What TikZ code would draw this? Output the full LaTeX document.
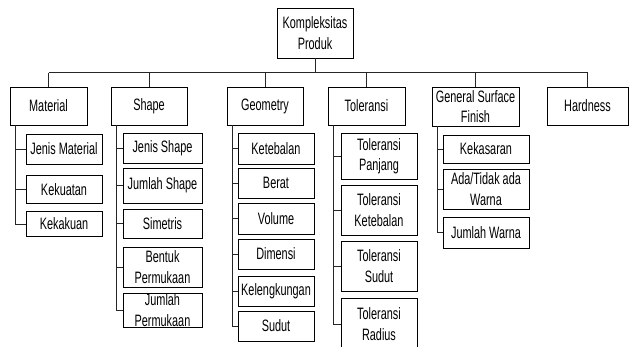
\documentclass[tikz,border=0pt]{standalone}
\usepackage{fontspec}
\setmainfont{Liberation Sans}[FakeStretch=0.66]
\usetikzlibrary{calc}
\tikzset{
  kotak/.style={draw, line width=0.8pt, inner sep=0pt, align=center},
  garis/.style={line width=0.8pt, draw=black!85}
}
\begin{document}
\begin{tikzpicture}[x=1pt,y=-1pt,font=\fontsize{16.5}{20.5}\selectfont]
\useasboundingbox (0,0) rectangle (629,347);
\node[kotak, minimum width=76pt, minimum height=50pt] (kp) at (315,33) {Kompleksitas\\Produk};
% level 1
\node[kotak, minimum width=77pt, minimum height=38pt] (mat) at (48.5,106) {Material};
\node[kotak, minimum width=76pt, minimum height=38pt] (shp) at (149,106) {Shape};
\node[kotak, minimum width=76pt, minimum height=38pt] (geo) at (265,106) {Geometry};
\node[kotak, minimum width=77pt, minimum height=38pt] (tol) at (366.5,106) {Toleransi};
\node[kotak, minimum width=87pt, minimum height=39pt] (gsf) at (475.5,106.5) {General Surface\\Finish};
\node[kotak, minimum width=81pt, minimum height=38pt] (hrd) at (587.5,106) {Hardness};
% Material
\node[kotak, minimum width=76pt, minimum height=30pt] (mat1) at (64,149) {Jenis Material};
\node[kotak, minimum width=76pt, minimum height=28pt] (mat2) at (64,189.5) {Kekuatan};
\node[kotak, minimum width=76pt, minimum height=25pt] (mat3) at (64,224) {Kekakuan};
% Shape
\node[kotak, minimum width=79pt, minimum height=30pt] (shp1) at (162.5,148) {Jenis Shape};
\node[kotak, minimum width=79pt, minimum height=35pt] (shp2) at (162.5,185.5) {Jumlah Shape};
\node[kotak, minimum width=79pt, minimum height=29pt] (shp3) at (162.5,223.5) {Simetris};
\node[kotak, minimum width=79pt, minimum height=40pt] (shp4) at (162.5,267) {Bentuk\\Permukaan};
\node[kotak, minimum width=79pt, minimum height=34pt] (shp5) at (162.5,310) {Jumlah\\Permukaan};
% Geometry
\node[kotak, minimum width=76pt, minimum height=31pt] (geo1) at (276,148.5) {Ketebalan};
\node[kotak, minimum width=76pt, minimum height=30pt] (geo2) at (276,183) {Berat};
\node[kotak, minimum width=76pt, minimum height=31pt] (geo3) at (276,218.5) {Volume};
\node[kotak, minimum width=76pt, minimum height=30pt] (geo4) at (276,254) {Dimensi};
\node[kotak, minimum width=76pt, minimum height=30pt] (geo5) at (276,291) {Kelengkungan};
\node[kotak, minimum width=76pt, minimum height=30pt] (geo6) at (276,326) {Sudut};
% Toleransi
\node[kotak, minimum width=76pt, minimum height=46pt] (tol1) at (379,156) {Toleransi\\Panjang};
\node[kotak, minimum width=76pt, minimum height=50pt] (tol2) at (379,210) {Toleransi\\Ketebalan};
\node[kotak, minimum width=76pt, minimum height=50pt] (tol3) at (379,266) {Toleransi\\Sudut};
\node[kotak, minimum width=76pt, minimum height=52pt] (tol4) at (379,324) {Toleransi\\Radius};
% General Surface Finish
\node[kotak, minimum width=86pt, minimum height=28pt] (gsf1) at (486,149) {Kekasaran};
\node[kotak, minimum width=86pt, minimum height=40pt] (gsf2) at (486,189) {Ada/Tidak ada\\Warna};
\node[kotak, minimum width=86pt, minimum height=31pt] (gsf3) at (486,232.5) {Jumlah Warna};

\coordinate (busL) at ($(mat.north)+(0,-14)$);
\coordinate (busR) at ($(hrd.north)+(0,-14)$);
\draw[garis] (busL) -- (busR);
\draw[garis] (kp.south) -- (kp.south |- busL);
\foreach \n in {mat,shp,geo,tol,gsf,hrd}
  \draw[garis] (\n.north) -- (\n.north |- busL);

\foreach \p/\last in {mat/3,shp/5,geo/6,tol/4,gsf/3}{
  \coordinate (\p L) at ($(\p.south west)+(6,0)$);
  \foreach \i in {1,...,\last}
    \draw[garis] (\p L) |- (\p\i.west);
}
\end{tikzpicture}
\end{document}
